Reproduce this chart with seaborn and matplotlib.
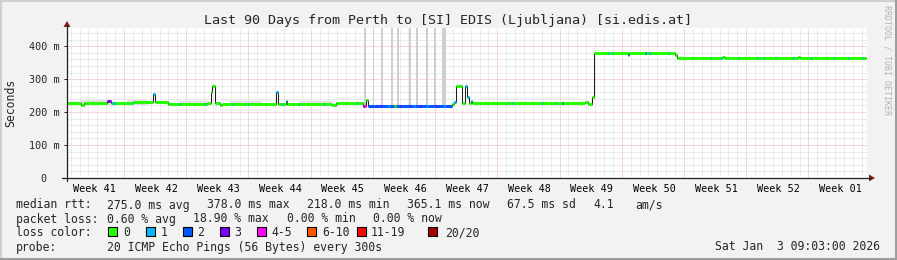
import numpy as np
import pandas as pd
import matplotlib
matplotlib.use("Agg")
import matplotlib.pyplot as plt
import seaborn as sns
from matplotlib.patches import Rectangle, Polygon
from matplotlib.lines import Line2D

# ---------------- data ----------------
title = "Last 90 Days from Perth to [SI] EDIS (Ljubljana) [si.edis.at]"
week_labels = ["Week 41", "Week 42", "Week 43", "Week 44", "Week 45", "Week 46", "Week 47",
               "Week 48", "Week 49", "Week 50", "Week 51", "Week 52", "Week 01"]

# median rtt as a step series: segment start day (last entry = end of data) and value in ms
rtt_day = [0.0, 1.575, 1.91, 4.5, 4.95, 7.42, 9.67, 9.9, 11.36, 15.75, 16.2, 16.31, 16.65,
           17.21, 17.44, 23.51, 23.74, 24.64, 24.75, 29.81, 30.26, 33.3, 33.64, 33.86, 43.31,
           43.54, 43.76, 44.44, 44.77, 45.0, 45.22, 45.45, 45.56, 58.27, 58.61, 59.06, 59.29,
           63.11, 63.22, 68.4, 68.62, 73.69, 74.03, 82.24, 82.46, 89.9]
rtt_ms = [227, 221, 227, 233, 227, 230, 255, 230, 225, 227, 262, 279, 226, 221, 225, 260,
          225, 233, 225, 221, 228, 218, 238, 219, 223, 232, 279, 228, 280, 247, 228, 233,
          228, 232, 224, 245, 378, 374, 378, 372, 365, 368, 365, 368, 365]
# loss bucket of each segment (0 = "0", 1 = "1", 2 = "2", 3 = "3", 4 = "4-5", ...)
rtt_loss = [0, 0, 0, 3, 0, 0, 1, 0, 0, 0, 0, 0, 0, 0, 0, 1, 0, 1, 0, 0, 0, 4, 0, 2, 0, 1,
            0, 0, 1, 1, 0, 1, 0, 0, 0, 0, 0, 1, 0, 0, 0, 0, 0, 0, 0]

# single-step loss spots on top of the segments
spot_day = [5.06, 5.17, 5.29, 7.31, 12.6, 15.41, 18.56, 20.36, 24.19, 25.99, 28.8, 32.62,
            33.3, 34.76, 35.21, 36.11, 36.79, 36.9, 37.46, 38.47, 39.04, 39.71, 40.5, 41.51,
            42.41, 49.61, 50.06, 53.44, 54.9, 55.69, 60.86, 61.31, 65.02, 65.36, 65.59,
            67.61, 72.34, 73.46, 75.49, 77.62, 78.3, 79.65, 81.67, 83.59, 86.17, 87.86, 89.43]
spot_loss = [1, 1, 1, 1, 1, 1, 1, 1, 1, 1, 1, 1,
             3, 3, 3, 1, 0, 0, 3, 3, 1, 3, 1, 3,
             1, 1, 1, 1, 1, 2, 1, 1, 2, 1, 1,
             1, 1, 1, 1, 1, 1, 1, 1, 1, 1, 1, 1]

# light smoke above the median
smoke_start = [1.46, 6.75, 12.71, 18.34, 26.21]
smoke_end = [4.84, 9.0, 15.75, 21.94, 29.81]
smoke_top = [236, 237, 234, 234, 234]

# off-scale smoke spikes
spike_day = [33.52, 34.48, 35.44, 36.56, 37.24, 38.59, 39.37, 40.5, 41.4, 42.41]
spike_len = [0.22, 0.22, 0.22, 0.22, 0.22, 0.22, 0.22, 0.22, 0.22, 0.45]
spike_top = [470, 470, 470, 470, 470, 470, 470, 470, 470, 470]

loss_names = ["0", "1", "2", "3", "4-5", "6-10", "11-19", "20/20"]
loss_colors = ["#26ff00", "#00b8ff", "#0059ff", "#7e00ff", "#ff00ff", "#ff5500", "#ff0000", "#a10000"]

y_ticks = [0, 100, 200, 300, 400]
y_tick_labels = ["0  ", "100 m", "200 m", "300 m", "400 m"]

stats_rtt = ["275.0 ms avg", "378.0 ms max", "218.0 ms min", "365.1 ms now", "67.5 ms sd", "4.1", "am/s"]
stats_loss = ["0.60 % avg", "18.90 % max", "0.00 % min", "0.00 % now"]
probe_text = "20 ICMP Echo Pings (56 Bytes) every 300s"
date_text = "Sat Jan  3 09:03:00 2026"

# ---------------- figure ----------------
sns.set_theme(style="white")
plt.rcParams["font.family"] = ["DejaVu Sans Mono", "DejaVu Sans"]

W, H = 897, 260
BG = "#f2f2f2"
fig = plt.figure(figsize=(W / 100, H / 100), dpi=100, facecolor=BG)


def fx(p):
    return p / W


def fy(p):
    return 1 - p / H


X0, X1, YB, YT = 67, 867, 178, 28
ax = fig.add_axes([fx(X0), fy(YB), (X1 - X0) / W, (YB - YT) / H])
ax.set_facecolor("white")
ax.set_xlim(0, 90)
ax.set_ylim(0, 455)
for s in ax.spines.values():
    s.set_visible(False)

# grid
minor_col = (0.56, 0.56, 0.56, 0.32)
major_col = (0.87, 0.31, 0.31, 0.45)
week_bounds = [6.41 + 7 * k for k in range(12)]
for k in range(90):
    d = 0.41 + k
    if min(abs(d - w) for w in week_bounds) > 0.3:
        ax.axvline(d, color=minor_col, lw=0.72, ls=(0, (1, 1)), zorder=0)
for v in range(20, 455, 20):
    if v % 100:
        ax.axhline(v, color=minor_col, lw=0.72, ls=(0, (1, 1)), zorder=0)
for w in week_bounds:
    ax.axvline(w, color=major_col, lw=0.72, ls=(0, (1, 1)), zorder=0.5)
for v in y_ticks[1:]:
    ax.axhline(v, color=major_col, lw=0.72, ls=(0, (1, 1)), zorder=0.5)

# smoke
ax.bar(smoke_start, [t - 222 for t in smoke_top], bottom=222,
       width=[e - s for s, e in zip(smoke_start, smoke_end)], align="edge",
       color="#e2e2e2", lw=0, zorder=1)


def rtt_at(d):
    i = np.searchsorted(rtt_day, d, side="right") - 1
    return rtt_ms[min(max(i, 0), len(rtt_ms) - 1)]


spike_base = [rtt_at(d) for d in spike_day]
ax.bar(spike_day, [t - b for t, b in zip(spike_top, spike_base)], bottom=spike_base,
       width=spike_len, align="center", color="#cfcfcf", lw=0, zorder=1)

# black median line (steps)
df = pd.DataFrame({"day": rtt_day, "ms": rtt_ms + [rtt_ms[-1]]})
n_before = len(ax.lines)
sns.lineplot(data=df, x="day", y="ms", drawstyle="steps-post", color="#1e1e1e",
             lw=0.75, ax=ax, estimator=None, legend=False)
for ln in ax.lines[n_before:]:
    ln.set_zorder(3)

# loss-coloured median
ax.hlines(rtt_ms, rtt_day[:-1], rtt_day[1:], colors=[loss_colors[l] for l in rtt_loss],
          lw=2.2, zorder=4, capstyle="butt")
step = 90 / 800
ax.hlines([rtt_at(d + step / 2) for d in spot_day], spot_day, [d + step for d in spot_day],
          colors=[loss_colors[l] for l in spot_loss], lw=2.2, zorder=5, capstyle="butt")

ax.set_xlabel("")
ax.set_ylabel("")

# ticks
ax.set_xticks([3.04 + 7 * k for k in range(13)])
ax.set_xticklabels(week_labels, fontsize=7.3)
ax.set_xticks(week_bounds, minor=True)
ax.tick_params(axis="x", which="major", length=0, pad=4.2, colors="black")
ax.tick_params(axis="x", which="minor", length=2.5, width=0.72, color=(0.12, 0.12, 0.12), direction="out")
ax.set_yticks(y_ticks)
ax.set_yticklabels(y_tick_labels, fontsize=7.3)
ax.tick_params(axis="y", which="major", length=2.5, width=0.72, color=(0.12, 0.12, 0.12),
               pad=3.0, direction="out", left=True)

# axes with arrows
axis_col = (0.12, 0.12, 0.12)
arrow_col = (0.5, 0.12, 0.12)
fig.add_artist(Line2D([fx(X0), fx(X0)], [fy(181), fy(25)], color=axis_col, lw=0.9))
fig.add_artist(Line2D([fx(62), fx(871)], [fy(YB), fy(YB)], color=axis_col, lw=0.9))
fig.add_artist(Polygon([(fx(63.5), fy(27)), (fx(70.5), fy(27)), (fx(67), fy(21))],
                       closed=True, color=arrow_col, lw=0))
fig.add_artist(Polygon([(fx(869), fy(174.5)), (fx(869), fy(181.5)), (fx(875), fy(178))],
                       closed=True, color=arrow_col, lw=0))

# frame shading
fig.add_artist(Line2D([0, 1], [fy(1), fy(1)], color="#cfcfcf", lw=1.5))
fig.add_artist(Line2D([fx(1), fx(1)], [0, 1], color="#cfcfcf", lw=1.5))
fig.add_artist(Line2D([0, 1], [fy(259), fy(259)], color="#9e9e9e", lw=1.5))
fig.add_artist(Line2D([fx(896), fx(896)], [0, 1], color="#9e9e9e", lw=1.5))

# texts
FS = 8.3
fig.text(fx(447.5), fy(24), title, ha="center", va="baseline", fontsize=9.6)
fig.text(fx(11), fy(103), "Seconds", rotation=90, ha="center", va="center", fontsize=8.3)
fig.text(fx(887), fy(5), "RRDTOOL / TOBI OETIKER", rotation=270, ha="center", va="top",
         fontsize=6.0, color="#b4b4b4")

fig.text(fx(16), fy(208.5), "median rtt:", fontsize=FS, va="baseline")
for t, x in zip(stats_rtt, [107, 207, 307, 407, 507, 593, 635]):
    fig.text(fx(x), fy(208.5), t, fontsize=FS, va="baseline")
fig.text(fx(16), fy(222.5), "packet loss:", fontsize=FS, va="baseline")
for t, x in zip(stats_loss, [107, 193, 286.5, 372.5]):
    fig.text(fx(x), fy(222.5), t, fontsize=FS, va="baseline")
fig.text(fx(16), fy(236.5), "loss color:", fontsize=FS, va="baseline")
for name, col, bx, tx in zip(loss_names, loss_colors,
                             [108, 146, 183, 220, 257, 307, 357, 428],
                             [123, 161, 197, 234, 271, 322, 371, 445]):
    fig.add_artist(Rectangle((fx(bx), fy(236)), 9 / W, 9 / H, facecolor=col,
                             edgecolor="black", lw=0.8))
    fig.text(fx(tx), fy(236.5), name, fontsize=FS, va="baseline")
fig.text(fx(16), fy(250.5), "probe:", fontsize=FS, va="baseline")
fig.text(fx(107), fy(250.5), probe_text, fontsize=FS, va="baseline")
fig.text(fx(880), fy(250.5), date_text, fontsize=FS, va="baseline", ha="right")

fig.savefig("out.png", dpi=100, facecolor=BG)
